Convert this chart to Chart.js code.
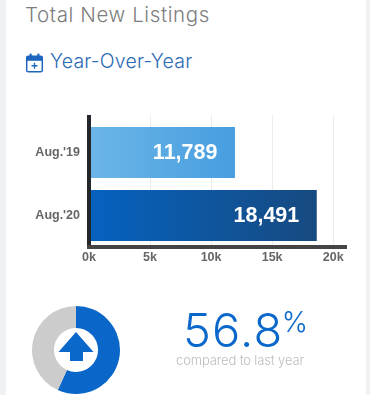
<!DOCTYPE html>
<html><head><meta charset="utf-8">
<script src="https://cdn.jsdelivr.net/npm/chart.js@4"></script>
<style>
html,body{margin:0;padding:0;background:#f0f1f3;overflow:hidden}
#card{position:absolute;left:6px;top:0;width:360px;height:395px;background:#fff}
.t{position:absolute;white-space:nowrap;font-family:Inter,"Open Sans",sans-serif;font-weight:300;line-height:1}
canvas{position:absolute}
</style></head><body>
<div id="card"></div>
<div class="t" id="title" style="left:25px;top:5px;font-size:20.5px;color:#7d7d7d;letter-spacing:.6px">Total New Listings</div>
<svg style="position:absolute;left:25px;top:52px" width="19" height="21" viewBox="0 0 19 21">
<rect x="1.7" y="4.2" width="15.6" height="15.6" rx="1.6" fill="none" stroke="#1d65bd" stroke-width="1.5"/>
<rect x="1.7" y="4.2" width="15.6" height="4.6" fill="#1d65bd"/>
<rect x="4.5" y="1.5" width="2.2" height="4.5" rx="1" fill="#1d65bd"/><rect x="12.3" y="1.5" width="2.2" height="4.5" rx="1" fill="#1d65bd"/>
<path d="M9.5 10.8v6M6.5 13.8h6" stroke="#1d65bd" stroke-width="1.4"/></svg>
<div class="t" id="sub" style="left:50px;top:52px;font-size:19.5px;color:#2b69b5;font-weight:300;letter-spacing:.2px">Year-Over-Year</div>
<canvas id="bar" width="370" height="168" style="left:0;top:100px;width:370px;height:168px"></canvas>
<canvas id="pie" width="100" height="100" style="left:26px;top:300px;width:100px;height:100px"></canvas>
<svg style="position:absolute;left:56px;top:330px" width="40" height="34" viewBox="0 0 40 34">
<path d="M20 2 L37.5 22 H27 V31 H14 V22 H2.5 Z" fill="#0b68cb"/></svg>
<div class="t" id="pct" style="left:183px;top:306px;font-size:47px;color:#0b68cb;letter-spacing:1.2px">56.8<span style="font-size:28px;vertical-align:15px;letter-spacing:0;margin-left:-1.5px">%</span></div>
<div class="t" style="left:176px;top:354px;font-size:13px;color:#bdbdbd;letter-spacing:-.14px">compared to last year</div>
<script>
const categories = ["Aug.'19", "Aug.'20"];
const listings = [11789, 18491];
const gradientStops = [["#6cb6e7", "#479ee0"], ["#0562c0", "#174a80"]];
const xTickValues = [0, 5000, 10000, 15000, 20000];
const xTickLabels = ["0k", "5k", "10k", "15k", "20k"];
const xMax = 21050;
const changeShare = [56.8, 43.2];
const shareColors = ["#0a66c8", "#cccccc"];

const barOverlay = {
  id: "barOverlay",
  afterDatasetsDraw(chart) {
    const c = chart.ctx;
    c.save();
    c.font = "bold 21.5px 'Liberation Sans', Arial, sans-serif";
    c.fillStyle = "#fff"; c.textAlign = "right"; c.textBaseline = "middle";
    chart.getDatasetMeta(0).data.forEach((el, i) => {
      c.fillText(listings[i].toLocaleString("en-US"), el.x - 15.5, el.y + 1);
    });
    c.restore();
  },
  beforeDatasetsDraw(chart) {
    const c = chart.ctx, x = chart.scales.x, a = chart.chartArea;
    c.save();
    c.strokeStyle = "#ececec"; c.lineWidth = 1;
    xTickValues.slice(1).forEach(v => {
      const p = Math.round(x.getPixelForValue(v)) + .5;
      c.beginPath(); c.moveTo(p, a.top - 6); c.lineTo(p, a.top); c.stroke();
    });
    c.fillStyle = "#23262b"; c.fillRect(a.left - 2, a.top - 6, 4, 6);
    c.restore();
  }
};

new Chart(document.getElementById("bar"), {
  type: "bar",
  plugins: [barOverlay],
  data: { labels: categories, datasets: [{
    data: listings,
    barPercentage: 47 / 63, categoryPercentage: 1,
    inflateAmount: 2,
    backgroundColor(ctx) {
      const chart = ctx.chart, a = chart.chartArea;
      if (!a) return gradientStops[0][0];
      const x = chart.scales.x;
      const g = chart.ctx.createLinearGradient(x.getPixelForValue(0), 0, x.getPixelForValue(listings[ctx.dataIndex]), 0);
      g.addColorStop(0, gradientStops[ctx.dataIndex][0]);
      g.addColorStop(1, gradientStops[ctx.dataIndex][1]);
      return g;
    }
  }]},
  options: {
    indexAxis: "y", responsive: false, animation: false,
    layout: { padding: { left: 0, right: 24, top: 21, bottom: 0 } },
    plugins: { legend: { display: false }, tooltip: { enabled: false } },
    scales: {
      x: {
        min: 0, max: xMax,
        afterBuildTicks(s) { s.ticks = xTickValues.map(v => ({ value: v })); },
        ticks: {
          maxRotation: 0, padding: 3, color: "#666",
          font: { family: "'Liberation Sans', Arial, sans-serif", size: 12.5, weight: "bold" },
          callback: (v) => xTickLabels[xTickValues.indexOf(v)]
        },
        grid: { color: "#ececec", lineWidth: 1, drawTicks: false },
        border: { color: "#444444", width: 4, z: 2 }
      },
      y: {
        afterFit(s) { s.width = 89; },
        ticks: {
          padding: 9, color: "#666",
          font: { family: "'Liberation Sans', Arial, sans-serif", size: 12.5, weight: "bold" }
        },
        grid: { display: false, drawTicks: false },
        border: { color: "#23262b", width: 4, z: 1 }
      }
    }
  }
});

new Chart(document.getElementById("pie"), {
  type: "doughnut",
  data: { datasets: [{ data: changeShare, backgroundColor: shareColors, borderWidth: 0 }] },
  options: {
    responsive: false, animation: false, cutout: "50%",
    layout: { padding: 6 },
    plugins: { legend: { display: false }, tooltip: { enabled: false } }
  }
});
</script>
</body></html>
